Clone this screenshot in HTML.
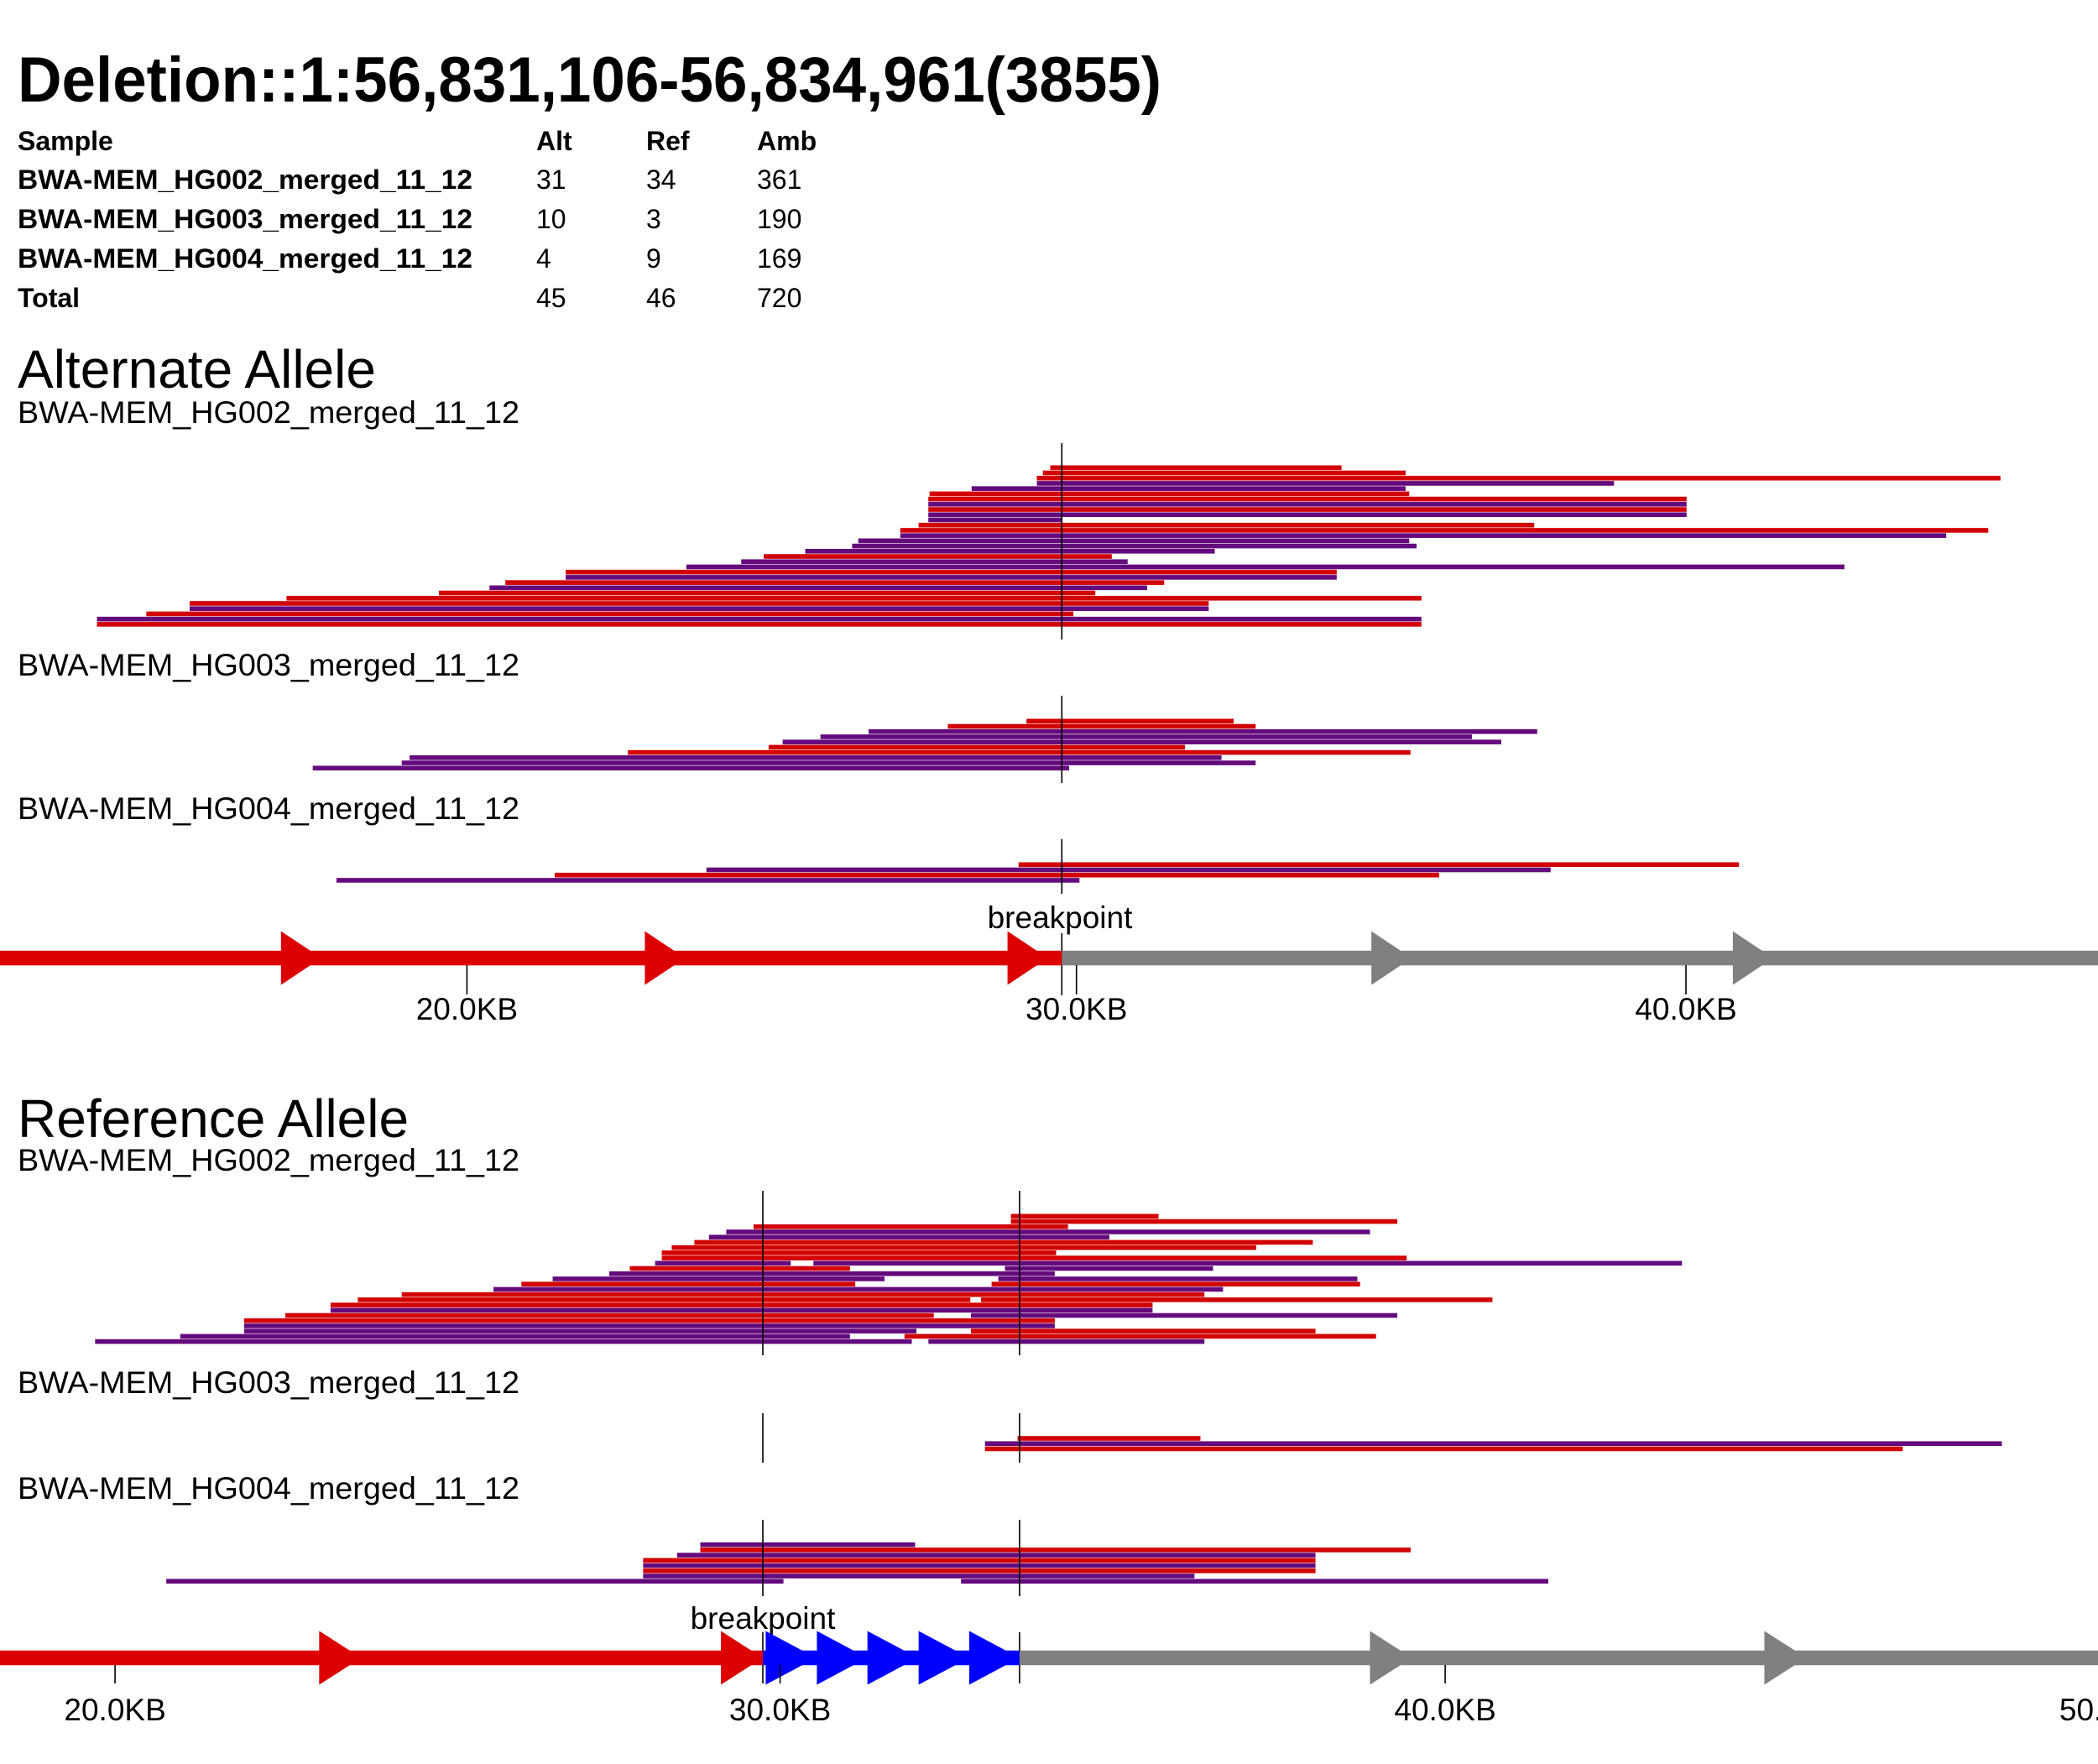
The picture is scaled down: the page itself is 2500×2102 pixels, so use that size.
<!DOCTYPE html>
<html><head><meta charset="utf-8"><style>
html,body{margin:0;padding:0;background:#fff;}
svg{display:block;font-family:"Liberation Sans",Arial,sans-serif;}
</style></head><body>
<svg id="chart" width="2500" height="2102" viewBox="0 0 2500 2102" xmlns="http://www.w3.org/2000/svg">
<rect width="2500" height="2102" fill="#fff"/>
<text x="21" y="121" font-size="76" font-weight="bold" textLength="1363" lengthAdjust="spacingAndGlyphs">Deletion::1:56,831,106-56,834,961(3855)</text>
<g font-size="32">
<text x="21" y="179" font-weight="bold">Sample</text>
<text x="639" y="179" font-weight="bold">Alt</text>
<text x="770" y="179" font-weight="bold">Ref</text>
<text x="902" y="179" font-weight="bold">Amb</text>
<text x="21" y="225" font-weight="bold" textLength="542" lengthAdjust="spacingAndGlyphs">BWA-MEM_HG002_merged_11_12</text>
<text x="639" y="225">31</text>
<text x="770" y="225">34</text>
<text x="902" y="225">361</text>
<text x="21" y="272" font-weight="bold" textLength="542" lengthAdjust="spacingAndGlyphs">BWA-MEM_HG003_merged_11_12</text>
<text x="639" y="272">10</text>
<text x="770" y="272">3</text>
<text x="902" y="272">190</text>
<text x="21" y="319" font-weight="bold" textLength="542" lengthAdjust="spacingAndGlyphs">BWA-MEM_HG004_merged_11_12</text>
<text x="639" y="319">4</text>
<text x="770" y="319">9</text>
<text x="902" y="319">169</text>
<text x="21" y="366" font-weight="bold">Total</text>
<text x="639" y="366">45</text>
<text x="770" y="366">46</text>
<text x="902" y="366">720</text>
</g>
<text x="21" y="462" font-size="64">Alternate Allele</text>
<text x="21" y="504" font-size="37" textLength="598" lengthAdjust="spacingAndGlyphs">BWA-MEM_HG002_merged_11_12</text>
<text x="21" y="805" font-size="37" textLength="598" lengthAdjust="spacingAndGlyphs">BWA-MEM_HG003_merged_11_12</text>
<text x="21" y="976" font-size="37" textLength="598" lengthAdjust="spacingAndGlyphs">BWA-MEM_HG004_merged_11_12</text>
<text x="1263" y="1106" font-size="37" text-anchor="middle">breakpoint</text>
<text x="21" y="1355" font-size="64">Reference Allele</text>
<text x="21" y="1395" font-size="37" textLength="598" lengthAdjust="spacingAndGlyphs">BWA-MEM_HG002_merged_11_12</text>
<text x="21" y="1660" font-size="37" textLength="598" lengthAdjust="spacingAndGlyphs">BWA-MEM_HG003_merged_11_12</text>
<text x="21" y="1786" font-size="37" textLength="598" lengthAdjust="spacingAndGlyphs">BWA-MEM_HG004_merged_11_12</text>
<text x="909" y="1941" font-size="37" text-anchor="middle">breakpoint</text>
<g id="marks"></g>
</svg>
<script>
// ---- data (genomic positions in KB) ----
const altBreakpoints = [29.76];
const refBreakpoints = [29.74, 33.60];
const altTicks = [20, 30, 40];
const altTickLabels = ["20.0KB", "30.0KB", "40.0KB"];
const refTicks = [20, 30, 40, 50];
const refTickLabels = ["20.0KB", "30.0KB", "40.0KB", "50.0KB"];

const altHG002Rows =   [0,1,2,3,4,5,6,7,8,9,10,11,12,13,14,15,16,17,18,19,20,21,22,23,24,25,26,27,28,29,30];
const altHG002Starts = [29.57,29.45,29.35,29.35,28.28,27.59,27.57,27.57,27.57,27.57,27.57,27.41,27.11,27.11,26.42,26.32,25.55,24.87,24.50,23.60,21.62,21.62,20.63,20.37,19.54,17.04,15.45,15.45,14.74,13.93,13.93];
const altHG002Ends =   [34.35,35.40,45.16,38.82,35.40,35.46,40.01,40.01,40.01,40.01,29.77,37.51,44.96,44.27,35.46,35.58,32.27,30.58,30.84,42.60,34.27,34.27,31.44,31.16,30.31,35.66,32.17,32.17,29.95,35.66,35.66];
const altHG002Types =  ["r","r","r","p","p","r","r","p","r","p","p","r","r","p","p","p","p","r","p","p","r","p","r","p","r","r","r","p","r","p","r"];

const altHG003Rows =   [0,1,2,3,4,5,6,7,8,9];
const altHG003Starts = [29.18,27.89,26.59,25.80,25.18,24.95,22.64,19.06,18.93,17.47];
const altHG003Ends =   [32.58,32.94,37.56,36.49,36.97,31.78,35.48,32.38,32.94,29.88];
const altHG003Types =  ["r","r","p","p","p","r","r","p","p","p"];

const altHG004Rows =   [0,1,2,3];
const altHG004Starts = [29.05,23.93,21.44,17.86];
const altHG004Ends =   [40.87,37.78,35.95,30.05];
const altHG004Types =  ["r","p","r","p"];

const refHG002Rows =   [0,1,2,3,4,5,6,7,8,9,9,10,10,11,12,12,13,13,14,15,16,16,17,18,19,19,20,21,22,22,23,23,24,24];
const refHG002Starts = [33.47,33.47,29.60,29.19,28.93,28.71,28.37,28.22,28.22,28.12,30.50,27.74,33.38,27.43,26.58,33.28,26.11,33.18,25.69,24.31,23.65,33.02,23.24,23.24,22.56,32.87,21.94,21.94,21.94,32.87,20.98,31.87,19.70,32.23];
const refHG002Ends =   [35.69,39.28,34.33,38.87,34.95,38.01,37.16,34.15,39.42,30.16,43.56,31.05,36.51,34.13,31.57,38.68,31.13,38.72,36.66,36.38,32.86,40.71,35.60,35.60,32.31,39.28,34.13,34.13,32.05,38.05,31.05,38.96,31.98,36.38];
const refHG002Types =  ["r","r","r","p","p","r","r","r","r","p","p","r","p","p","p","p","r","r","p","r","r","r","r","p","r","p","r","p","p","r","p","r","p","p"];

const refHG003Rows =   [0,1,2];
const refHG003Starts = [33.57,33.08,33.08];
const refHG003Ends =   [36.32,48.37,46.88];
const refHG003Types =  ["r","p","r"];

const refHG004Rows =   [0,1,2,3,4,5,6,7,7];
const refHG004Starts = [28.80,28.80,28.45,27.94,27.94,27.94,27.94,20.77,32.72];
const refHG004Ends =   [32.03,39.48,38.05,38.05,38.05,38.05,36.23,30.05,41.55];
const refHG004Types =  ["p","r","p","r","p","r","p","p","p"];

const altArrowTips = [17.61,23.58,29.53,35.50,41.43];
const refArrowTips = [23.70,29.74,30.54,31.31,32.07,32.84,33.60,39.50,45.43];

// ---- axis functions ----
function xAlt(kb){ return 556.4 + (kb - 20) * 72.63; }
function xRef(kb){ return 137.1 + (kb - 20) * 79.25; }

const NS = "http://www.w3.org/2000/svg";
const marks = document.getElementById("marks");
const COL = { r: "#d20000", p: "#640a7c" };

function mk(tag, attrs){
  const e = document.createElementNS(NS, tag);
  for (const k in attrs) e.setAttribute(k, attrs[k]);
  marks.appendChild(e);
  return e;
}

function drawReads(name, xf, top, rows, starts, ends, types){
  for (let i = 0; i < rows.length; i++){
    const x1 = xf(starts[i]), x2 = xf(ends[i]);
    const r = mk("rect", {x: x1, y: top + rows[i] * 6.22 - 2.8, width: x2 - x1, height: 5.6, fill: COL[types[i]]});
    
    
  }
}

function vline(name, x, y1, y2){
  const l = mk("line", {x1: x, x2: x, y1: y1, y2: y2, stroke: "#000", "stroke-width": 1.6});
  
  
}

drawReads("alt-hg002", xAlt, 557.3, altHG002Rows, altHG002Starts, altHG002Ends, altHG002Types);
drawReads("alt-hg003", xAlt, 859.3, altHG003Rows, altHG003Starts, altHG003Ends, altHG003Types);
drawReads("alt-hg004", xAlt, 1030.3, altHG004Rows, altHG004Starts, altHG004Ends, altHG004Types);
drawReads("ref-hg002", xRef, 1449.3, refHG002Rows, refHG002Starts, refHG002Ends, refHG002Types);
drawReads("ref-hg003", xRef, 1714, refHG003Rows, refHG003Starts, refHG003Ends, refHG003Types);
drawReads("ref-hg004", xRef, 1840.7, refHG004Rows, refHG004Starts, refHG004Ends, refHG004Types);

altBreakpoints.forEach(function(b){
  const x = xAlt(b);
  vline('alt-hg002-breakpoint-line', x, 528, 762);
  vline('alt-hg003-breakpoint-line', x, 829, 933);
  vline('alt-hg004-breakpoint-line', x, 1000, 1065);
  vline('alt-track-breakpoint-line', x, 1112, 1186);
});
refBreakpoints.forEach(function(b){
  const x = xRef(b);
  vline('ref-hg002-breakpoint-line', x, 1419, 1615);
  vline('ref-hg003-breakpoint-line', x, 1684, 1743);
  vline('ref-hg004-breakpoint-line', x, 1811, 1902);
  vline('ref-track-breakpoint-line', x, 1945, 2006);
});

function seg(name, x1, x2, cy, color){
  const r = mk("rect", {x: x1, y: cy - 8.75, width: x2 - x1, height: 17.5, fill: color});
  
  
}
function arrow(name, tip, cy, color, w){
  const p = mk("polygon", {points: (tip-w)+","+(cy-32)+" "+tip+","+cy+" "+(tip-w)+","+(cy+32), fill: color});
  
  
}
function tick(name, x, y1, y2, label, ly){
  vline(name + '-tick', x, y1, y2);
  const t = mk("text", {x: x, y: ly, "font-size": 37, "text-anchor": "middle"});
  t.textContent = label;
  
  
}

const altY = 1141.6;
seg('alt-track-left', 0, xAlt(altBreakpoints[0]), altY, "#dd0000");
seg('alt-track-right', xAlt(altBreakpoints[0]), 2500, altY, "#808080");
altArrowTips.forEach(function(t){
  arrow('alt-track-arrow', xAlt(t), altY, t < altBreakpoints[0] ? "#dd0000" : "#808080", 48);
});
altTicks.forEach(function(t, i){ tick('alt-axis-' + altTickLabels[i], xAlt(t), 1150, 1185, altTickLabels[i], 1215); });

const refY = 1975.5;
seg('ref-track-left', 0, xRef(refBreakpoints[0]), refY, "#dd0000");
seg('ref-track-deleted', xRef(refBreakpoints[0]), xRef(refBreakpoints[1]), refY, "#0000ff");
seg('ref-track-right', xRef(refBreakpoints[1]), 2500, refY, "#808080");
refArrowTips.forEach(function(t){
  const inDel = t > refBreakpoints[0] + 0.01 && t <= refBreakpoints[1] + 0.01;
  const c = t <= refBreakpoints[0] + 0.01 ? "#dd0000" : (inDel ? "#0000ff" : "#808080");
  arrow('ref-track-arrow', xRef(t), refY, c, inDel ? 60 : 50);
});
refTicks.forEach(function(t, i){ tick('ref-axis-' + refTickLabels[i], xRef(t), 1984, 2006, refTickLabels[i], 2050); });
</script>
</body></html>
